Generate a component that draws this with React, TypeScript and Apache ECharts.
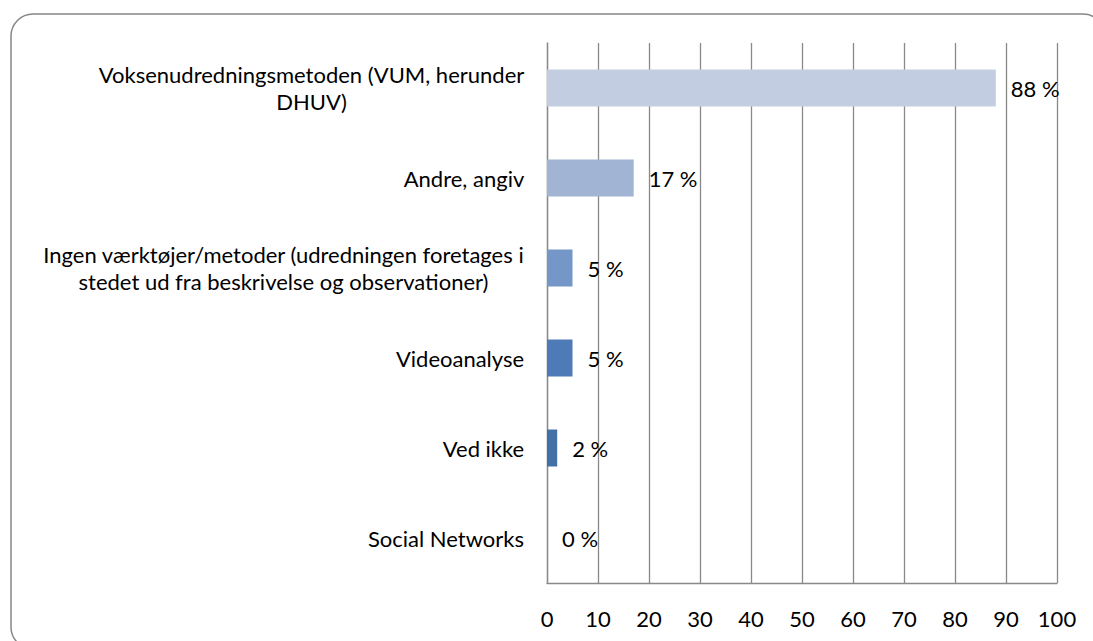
import React, { useEffect, useRef } from "react";
import * as echarts from "echarts";

const categories: string[] = [
  "Voksenudredningsmetoden (VUM, herunder\nDHUV)",
  "Andre, angiv",
  "Ingen værktøjer/metoder (udredningen foretages i\nstedet ud fra beskrivelse og observationer)",
  "Videoanalyse",
  "Ved ikke",
  "Social Networks",
];
const values: number[] = [88, 17, 5, 5, 2, 0];
const barColors: string[] = ["#C3CDE1", "#A2B4D3", "#7497C8", "#4E7BB8", "#4470A8", "#3F6699"];
const xTicks = { min: 0, max: 100, interval: 10 };

const FONT = "Lato";
const FS = 22;

function measure(text: string): number {
  const c = document.createElement("canvas");
  const ctx = c.getContext("2d")!;
  ctx.font = `${FS}px ${FONT}`;
  return ctx.measureText(text).width;
}

export default function App() {
  const ref = useRef<HTMLDivElement>(null);
  useEffect(() => {
    if (!ref.current) return;
    const chart = echarts.init(ref.current, undefined, { renderer: "svg" });
    const rich: Record<string, any> = {};
    categories.forEach((cat, i) => {
      const w = Math.max(...cat.split("\n").map(measure));
      rich["l" + i] = {
        width: Math.ceil(w) + 1,
        align: "center",
        fontFamily: FONT,
        fontSize: FS,
        color: "#000",
        lineHeight: 27,
      };
    });
    chart.setOption({
      animation: false,
      textStyle: { fontFamily: FONT },
      graphic: [
        {
          type: "rect",
          shape: { x: 11, y: 14, width: 1094, height: 635, r: 22 },
          style: { fill: "none", stroke: "#878787", lineWidth: 1.5 },
          silent: true,
        },
      ],
      grid: { left: 547, right: 36, top: 43, bottom: 58, containLabel: false },
      xAxis: {
        type: "value",
        min: xTicks.min,
        max: xTicks.max,
        interval: xTicks.interval,
        axisLine: { show: true, lineStyle: { color: "#898989", width: 1.3 } },
        axisTick: { show: false },
        splitLine: { show: true, lineStyle: { color: "#898989", width: 1.3 } },
        axisLabel: { color: "#000", fontFamily: FONT, fontSize: FS, margin: 24 },
      },
      yAxis: {
        type: "category",
        inverse: true,
        data: categories,
        axisLine: { show: true, lineStyle: { color: "#898989", width: 1.3 } },
        axisTick: { show: false },
        splitLine: { show: false },
        axisLabel: {
          interval: 0,
          margin: 22,
          color: "#000",
          fontFamily: FONT,
          fontSize: FS,
          formatter: (val: string, idx: number) =>
            val
              .split("\n")
              .map((l) => `{l${idx}|${l}}`)
              .join("\n"),
          rich,
        },
      },
      series: [
        {
          type: "bar",
          data: values.map((v, i) => ({ value: v, itemStyle: { color: barColors[i] } })),
          barWidth: 37,
          label: {
            show: true,
            position: "right",
            distance: 15,
            formatter: "{c} %",
            color: "#000",
            fontFamily: FONT,
            fontSize: FS,
          },
        },
      ],
    });
    return () => chart.dispose();
  }, []);
  return (
    <div
      ref={ref}
      style={{ position: "fixed", left: 0, top: 0, width: 1093, height: 641, background: "#fff" }}
    />
  );
}
